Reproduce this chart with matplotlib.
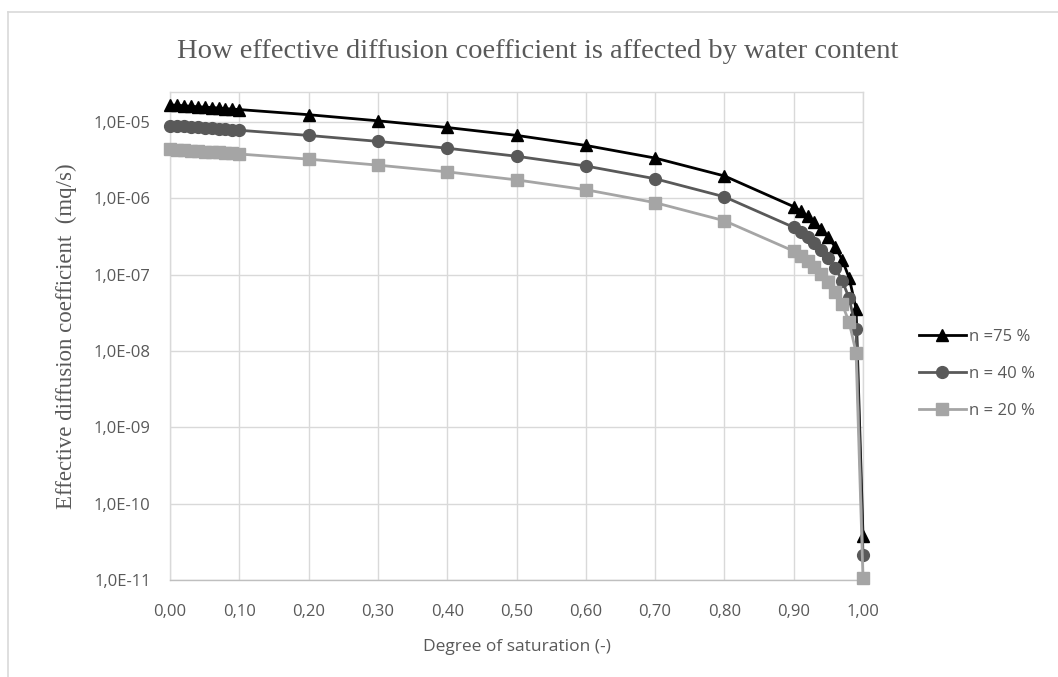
import numpy as np
import matplotlib
matplotlib.use("Agg")
import matplotlib.pyplot as plt
from matplotlib.ticker import FuncFormatter, FixedLocator, NullLocator
from matplotlib.lines import Line2D

# ---- data ----
saturation = [0.00, 0.01, 0.02, 0.03, 0.04, 0.05, 0.06, 0.07, 0.08, 0.09, 0.10,
              0.20, 0.30, 0.40, 0.50, 0.60, 0.70, 0.80,
              0.90, 0.91, 0.92, 0.93, 0.94, 0.95, 0.96, 0.97, 0.98, 0.99, 1.00]

n75 = [1.68e-5, 1.66e-5, 1.64e-5, 1.61e-5, 1.59e-5, 1.57e-5, 1.55e-5, 1.53e-5, 1.50e-5, 1.48e-5, 1.46e-5,
       1.25e-5, 1.04e-5, 8.5e-6, 6.7e-6, 4.95e-6, 3.38e-6, 1.97e-6,
       7.8e-7, 6.8e-7, 5.8e-7, 4.85e-7, 3.95e-7, 3.1e-7, 2.3e-7, 1.57e-7, 9.1e-8, 3.6e-8, 3.8e-11]

n40 = [9.0e-6, 8.88e-6, 8.76e-6, 8.64e-6, 8.52e-6, 8.41e-6, 8.29e-6, 8.17e-6, 8.06e-6, 7.94e-6, 7.82e-6,
       6.69e-6, 5.59e-6, 4.55e-6, 3.57e-6, 2.66e-6, 1.81e-6, 1.05e-6,
       4.18e-7, 3.63e-7, 3.1e-7, 2.6e-7, 2.12e-7, 1.66e-7, 1.23e-7, 8.4e-8, 4.9e-8, 1.94e-8, 2.1e-11]

n20 = [4.4e-6, 4.34e-6, 4.28e-6, 4.22e-6, 4.17e-6, 4.11e-6, 4.05e-6, 4.0e-6, 3.94e-6, 3.88e-6, 3.82e-6,
       3.27e-6, 2.73e-6, 2.23e-6, 1.75e-6, 1.3e-6, 8.8e-7, 5.1e-7,
       2.04e-7, 1.77e-7, 1.52e-7, 1.27e-7, 1.03e-7, 8.1e-8, 6.0e-8, 4.1e-8, 2.4e-8, 9.5e-9, 1.05e-11]

series_labels = ["n =75 %", "n = 40 %", "n = 20 %"]
title_text = "How effective diffusion coefficient is affected by water content"
xlabel_text = "Degree of saturation (-)"
ylabel_text = "Effective diffusion coefficient  (mq/s)"
x_ticks = [0.0, 0.1, 0.2, 0.3, 0.4, 0.5, 0.6, 0.7, 0.8, 0.9, 1.0]
y_ticks = [1e-11, 1e-10, 1e-9, 1e-8, 1e-7, 1e-6, 1e-5]

# ---- figure ----
W, H = 1058, 677
fig = plt.figure(figsize=(W / 100, H / 100), dpi=100)
fig.patch.set_facecolor("white")

# outer chart frame
frame_col = "#D9D9D9"
fig.add_artist(Line2D([8 / W, 1.0], [1 - 12 / H, 1 - 12 / H], transform=fig.transFigure,
                      color=frame_col, lw=1.2))
fig.add_artist(Line2D([8 / W, 8 / W], [0, 1 - 12 / H], transform=fig.transFigure,
                      color=frame_col, lw=1.2))

left, right, top, bottom = 170, 863, 92, 580
ax = fig.add_axes([left / W, 1 - bottom / H, (right - left) / W, (bottom - top) / H])

sans = ["Open Sans", "DejaVu Sans"]
serif = ["Liberation Serif", "DejaVu Serif"]
txt_col = "#595959"

styles = [
    dict(color="#000000", marker="^", ms=9),
    dict(color="#595959", marker="o", ms=8.5),
    dict(color="#A5A5A5", marker="s", ms=8),
]
for vals, lab, st in zip([n75, n40, n20], series_labels, styles):
    ax.plot(saturation, vals, color=st["color"], lw=2.0, marker=st["marker"],
            ms=st["ms"], mfc=st["color"], mec=st["color"], label=lab,
            clip_on=False, zorder=3)

ax.set_yscale("log")
ax.set_xlim(0, 1.0)
ax.set_ylim(1e-11, 2.48e-5)

ax.xaxis.set_major_locator(FixedLocator(x_ticks))
ax.yaxis.set_major_locator(FixedLocator(y_ticks))
ax.yaxis.set_minor_locator(NullLocator())
ax.xaxis.set_minor_locator(NullLocator())


def yfmt(v, p):
    e = int(np.floor(np.log10(v) + 1e-9))
    m = v / 10 ** e
    return f"{m:.1f}".replace(".", ",") + f"E{e:+03d}"


ax.yaxis.set_major_formatter(FuncFormatter(yfmt))
ax.xaxis.set_major_formatter(FuncFormatter(lambda v, p: f"{v:.2f}".replace(".", ",")))

ax.grid(True, which="major", color="#D9D9D9", lw=1.0)
ax.set_axisbelow(True)
for s in ["top", "right", "left"]:
    ax.spines[s].set_color("#D9D9D9")
    ax.spines[s].set_linewidth(1.0)
ax.spines["bottom"].set_color("#BFBFBF")
ax.spines["bottom"].set_linewidth(1.0)

ax.tick_params(axis="both", length=0, labelsize=12, labelcolor=txt_col)
ax.tick_params(axis="x", pad=17)
ax.tick_params(axis="y", pad=14)
for lbl in ax.get_xticklabels() + ax.get_yticklabels():
    lbl.set_fontfamily(sans)

ax.set_xlabel(xlabel_text, fontsize=12.5, color=txt_col, family=sans, labelpad=14)
ax.set_ylabel(ylabel_text, fontsize=16.5, color=txt_col, family=serif, labelpad=12)

fig.text((left + right) / 2 / W + 0.02, 1 - 52 / H, title_text, ha="center", va="center",
         fontsize=20.5, color=txt_col, family=serif)

leg = ax.legend(loc="center left", bbox_to_anchor=(919 / W, 1 - 374 / H),
                bbox_transform=fig.transFigure, frameon=False, borderpad=0,
                borderaxespad=0, handlelength=2.8, handletextpad=0.2,
                labelspacing=1.25, prop={"family": sans, "size": 12})
for t in leg.get_texts():
    t.set_color(txt_col)

fig.savefig("out.png", dpi=100, facecolor="white")
